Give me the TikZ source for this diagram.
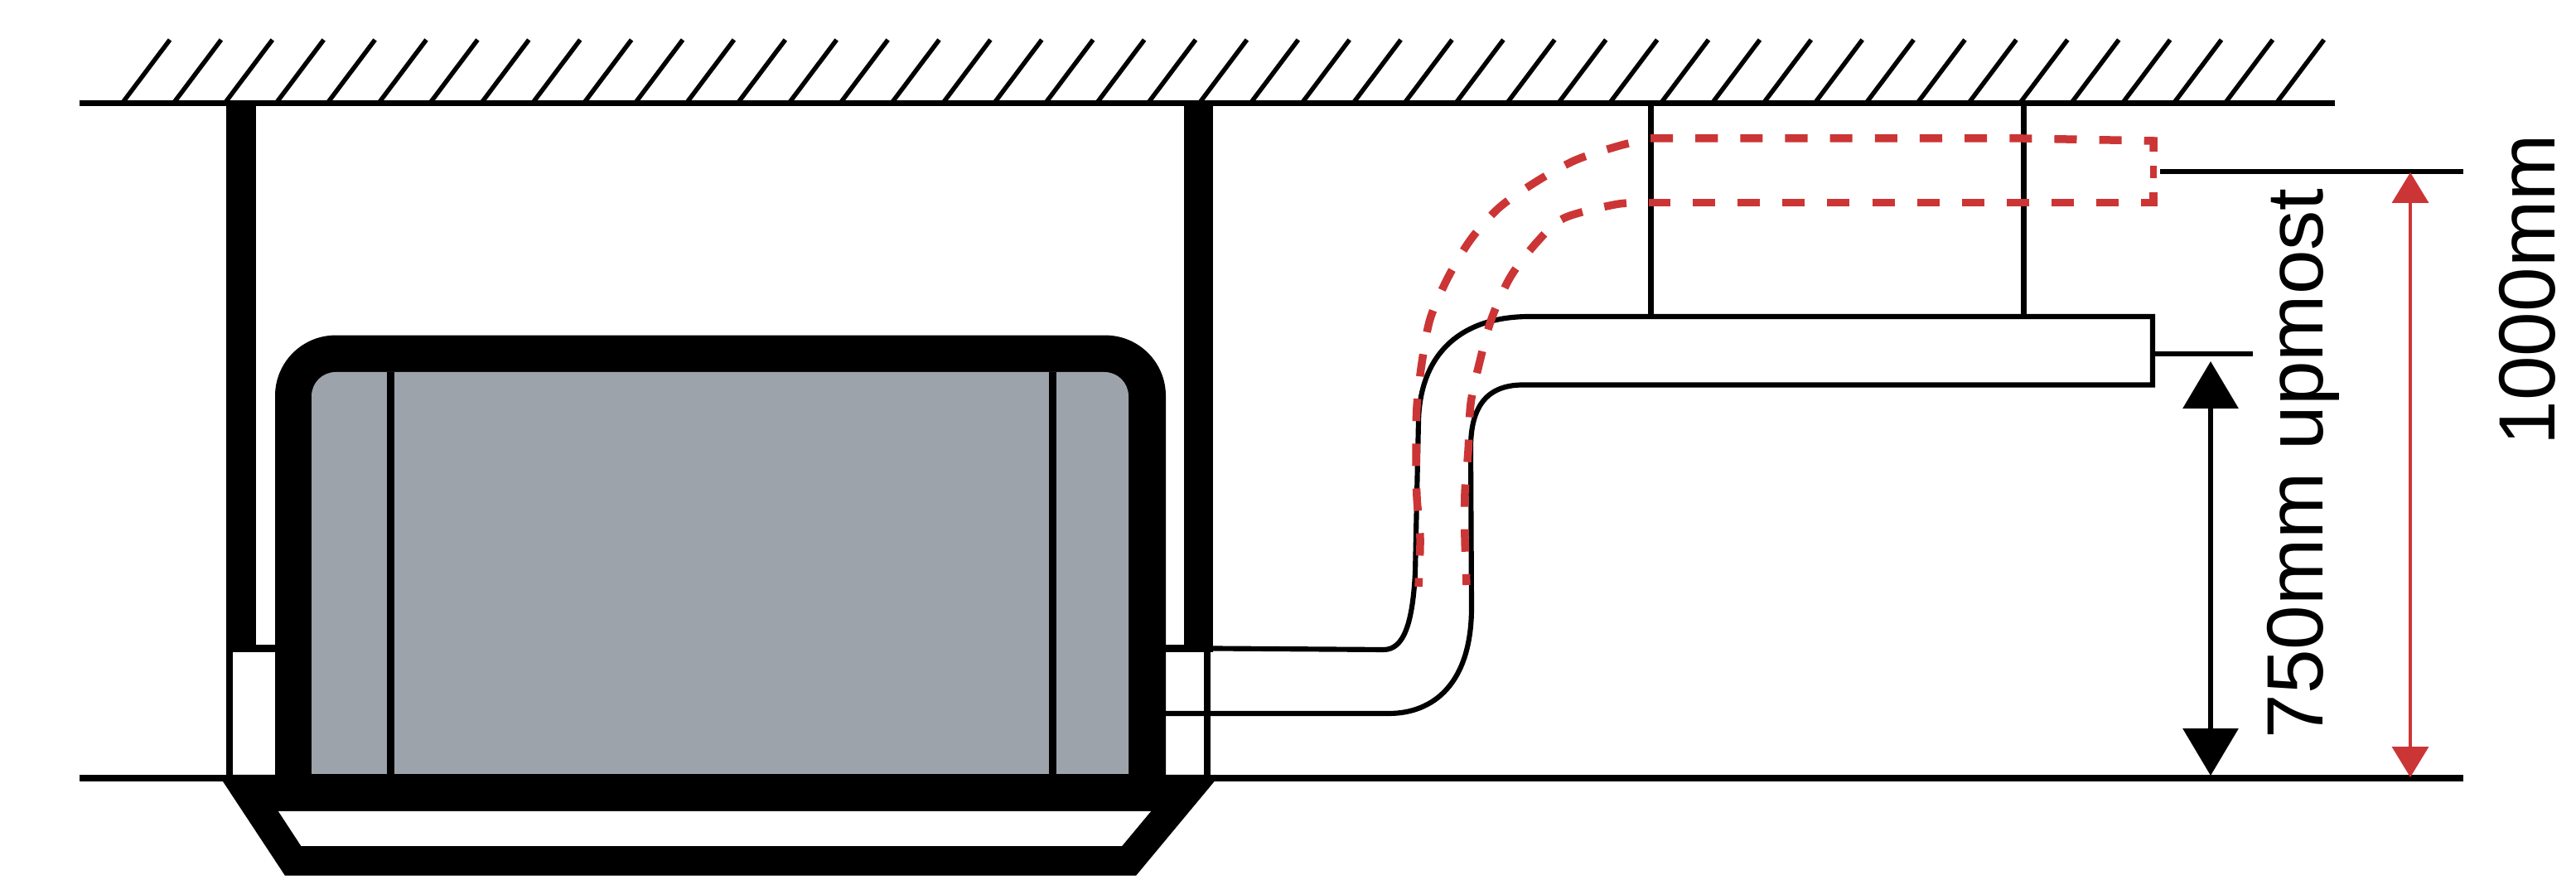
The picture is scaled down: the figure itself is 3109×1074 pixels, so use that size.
\documentclass[tikz,border=0pt]{standalone}
\usepackage{fontspec}
\setmainfont{Liberation Sans}
\usetikzlibrary{arrows.meta}
\definecolor{unitgrey}{HTML}{9DA3AA}
\definecolor{ductred}{HTML}{CC3535}
\tikzset{
  wall/.style={line width=2pt},
  duct/.style={line width=1.75pt},
  hatchline/.style={line width=1.55pt},
  moved/.style={ductred,line width=2.7pt,dash pattern=on 7.7pt off 7.7pt},
  movedcurve/.style={moved,dash phase=7.7pt,smooth},
  blackdim/.style={line width=1.75pt,{Triangle[length=16.2pt,width=18.8pt]}-{Triangle[length=16.2pt,width=18.8pt]}},
  reddim/.style={ductred,line width=1.35pt,{Triangle[length=10.5pt,width=12.4pt]}-{Triangle[length=10.5pt,width=12.4pt]}},
  dimtext/.style={rotate=90,anchor=base west,inner sep=0pt,font=\fontsize{27.4}{30}\selectfont}
}
\begin{document}
\begin{tikzpicture}[x=0.01cm,y=-0.01cm]
  \useasboundingbox (0,0) rectangle (3109,1074);
  % ceiling
  \draw[wall] (95.7,124.5) -- (2818,124.5);
  \foreach \i in {0,...,42}
    \draw[hatchline] ({147.5+61.9*\i},124.5) -- ({205+61.9*\i},48);
  % floor
  \draw[wall] (95.7,939) -- (273,939);
  \draw[wall] (1461,939) -- (2972.6,939);
  % hangers of the unit
  \fill (273,128) rectangle (309,787);
  \fill (1428.6,128) rectangle (1464,787);
  \fill (273,778) rectangle (332,787);
  \fill (273,778) rectangle (281,940);
  \fill (1407,778) rectangle (1464,787);
  \fill (1453,778) rectangle (1461,940);
  % unit
  \fill (332,979) [rounded corners=7.3mm] -- (332,404.6) -- (1407,404.6) [sharp corners] -- (1407,979) -- cycle;
  \fill[unitgrey] (376,934) [rounded corners=2.9mm] -- (376,449) -- (1362,449) [sharp corners] -- (1362,934) -- cycle;
  \draw[line width=2.55pt] (471.5,449) -- (471.5,934);
  \draw[line width=2.55pt] (1270.5,449) -- (1270.5,934);
  % grille
  \fill (273,935) -- (1461,935) -- (1465.6,943) -- (1371,1056.7) -- (344,1056.7) -- (269,943) -- cycle;
  \fill[white] (336,979) -- (1389,979) -- (1354,1021) -- (363.5,1021) -- cycle;
  % duct
  \draw[duct] (1407,861) -- (1676,861) .. controls (1730,861) and (1776,825) .. (1776,733)
    -- (1775,540) .. controls (1775,490) and (1795,464.5) .. (1838,464.5) -- (2598,464.5)
    -- (2598,382) -- (1846,382) .. controls (1765,382) and (1714,425) .. (1712,508)
    -- (1708,691) .. controls (1705,750) and (1695,784) .. (1670,784) -- (1464,782.5);
  \draw[wall] (1992,128) -- (1992,382);
  \draw[wall] (2442,128) -- (2442,382);
  % duct at the upper position
  \draw[movedcurve] plot coordinates {(1992,167) (1954,176) (1902,193) (1856,218) (1810,250) (1775,289)
    (1747,336) (1726,385) (1716,438) (1710,491) (1709,544) (1710,600) (1714,650) (1712,708)};
  \draw[movedcurve] plot coordinates {(1990,244.5) (1951,246.5) (1888,263) (1856,291) (1823,334) (1800,385)
    (1786,436) (1775,487) (1772,544) (1768,595) (1768,650) (1770,706)};
  \draw[moved] (1992,167) -- (2440,167) -- (2599,170) -- (2599,183);
  \draw[moved,line width=2.1pt] (2599,200) -- (2599,215);
  \draw[moved] (2599,232) -- (2599,244.5) -- (1990,244.5);
  % dimensions
  \coordinate (lowfoot) at (2668,936);
  \coordinate (lowhead) at (2668,436);
  \coordinate (highfoot) at (2909,938);
  \coordinate (highhead) at (2909,208);
  \draw[duct] (2598,427) -- (2719,427);
  \draw[duct] (2607,206.6) -- (2972.6,206.6);
  \draw[blackdim] (lowfoot) -- (lowhead);
  \draw[reddim] (highfoot) -- (highhead);
  \node[dimtext] (lowlabel) at (2803,892) {750mm upmost};
  \node[dimtext] (highlabel) at (3083.5,538) {1000mm};
\end{tikzpicture}
\end{document}
